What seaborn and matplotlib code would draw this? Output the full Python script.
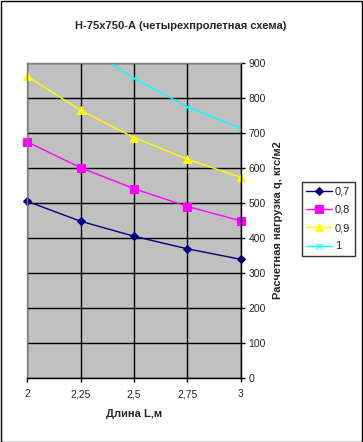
import pandas as pd
import matplotlib
matplotlib.use("Agg")
import matplotlib.pyplot as plt
from matplotlib.patches import Rectangle
import seaborn as sns

# data
lengths = [2, 2.25, 2.5, 2.75, 3]
x_labels = ["2", "2,25", "2,5", "2,75", "3"]
q_07 = [505, 448, 405, 369, 339]
q_08 = [675, 601, 541, 490, 449]
q_09 = [863, 765, 687, 625, 573]
q_10_x = [2.25, 2.5, 2.75, 3]
q_10 = [955, 856, 775, 713]
series_names = ["0,7", "0,8", "0,9", "1"]

sns.set_style("white")
plt.rcParams["font.family"] = ["Liberation Sans", "DejaVu Sans"]

fig = plt.figure(figsize=(3.63, 4.42), dpi=100)
ax = fig.add_axes([27 / 363, 1 - 378 / 442, 214 / 363, 315 / 442])
ax.set_facecolor("#c0c0c0")

styles = [
    ("#000080", "D", 4.5),
    ("#ff00ff", "s", 5.5),
    ("#ffff00", "^", 6),
    ("#00ffff", "x", 4),
]
xs_all = [lengths, lengths, lengths, q_10_x]
ys_all = [q_07, q_08, q_09, q_10]

for i, ((color, marker, ms), xs, ys, name) in enumerate(zip(styles, xs_all, ys_all, series_names)):
    df = pd.DataFrame({"L": xs, "q": ys})
    sns.lineplot(data=df, x="L", y="q", ax=ax, color=color, marker=marker,
                 markersize=ms, markeredgecolor=color, markerfacecolor=color,
                 linewidth=1, label=name, legend=False)
    # markers on the plot edge should not be cut (the last series runs off the top)
    if i < 3:
        ax.lines[-1].set_clip_on(False)

ax.set_xlim(2, 3)
ax.set_ylim(0, 900)
ax.set_xticks(lengths)
ax.set_xticklabels(x_labels)
ax.set_yticks(range(0, 901, 100))
ax.yaxis.tick_right()
ax.yaxis.set_label_position("right")
ax.grid(True, color="black", linewidth=1)
ax.set_axisbelow(True)
ax.tick_params(axis="both", labelsize=7.5, direction="out", length=3,
               width=1, color="black", pad=2.5)
ax.tick_params(axis="y", right=True, left=False, labelright=True, labelleft=False)
ax.tick_params(axis="x", bottom=True, pad=5)

for side in ["left", "top"]:
    ax.spines[side].set_color("#808080")
    ax.spines[side].set_linewidth(1)
for side in ["right", "bottom"]:
    ax.spines[side].set_color("black")
    ax.spines[side].set_linewidth(1)

ax.set_xlabel("Длина L,м", fontsize=8, fontweight="bold", labelpad=7)
ax.set_ylabel("Расчетная нагрузка q, кгс/м2", fontsize=8, fontweight="bold",
              labelpad=5)

fig.text(180.5 / 363, 1 - 26 / 442, "Н-75х750-А (четырехпролетная схема)",
         ha="center", va="center", fontsize=8, fontweight="bold")

h, l = ax.get_legend_handles_labels()
leg = fig.legend(h, l, loc="upper left",
                 bbox_to_anchor=(302 / 363, 1 - 182 / 442),
                 fontsize=8, frameon=True, fancybox=False,
                 borderpad=0.4, labelspacing=0.75, handlelength=2.3,
                 handletextpad=0.25, borderaxespad=0)
leg.get_frame().set_edgecolor("black")
leg.get_frame().set_linewidth(1)

fig.patches.append(Rectangle((0.5 / 363, 0.5 / 442), 361.5 / 363, 440.5 / 442,
                             transform=fig.transFigure, fill=False,
                             edgecolor="black", linewidth=1))

fig.savefig("out.png", dpi=100)
